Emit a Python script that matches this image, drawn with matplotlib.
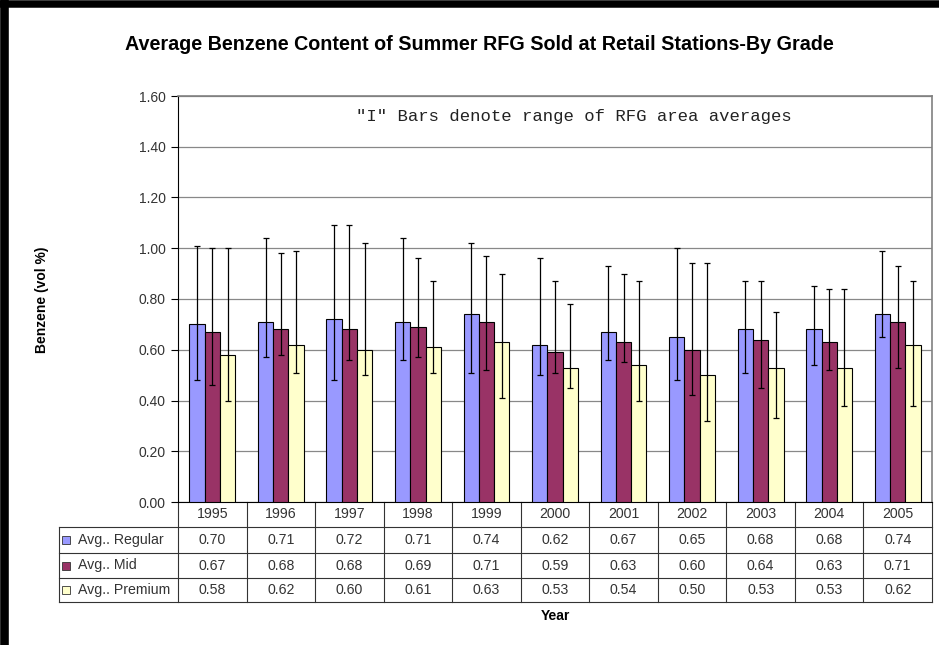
import numpy as np
import matplotlib.pyplot as plt
import matplotlib.transforms as mtransforms
from matplotlib.lines import Line2D
from matplotlib.patches import Rectangle

years = ['1995', '1996', '1997', '1998', '1999', '2000',
         '2001', '2002', '2003', '2004', '2005']
series = ['Avg.. Regular', 'Avg.. Mid', 'Avg.. Premium']
colors = ['#9999FF', '#993366', '#FFFFCC']

regular = [0.70, 0.71, 0.72, 0.71, 0.74, 0.62, 0.67, 0.65, 0.68, 0.68, 0.74]
mid = [0.67, 0.68, 0.68, 0.69, 0.71, 0.59, 0.63, 0.60, 0.64, 0.63, 0.71]
premium = [0.58, 0.62, 0.60, 0.61, 0.63, 0.53, 0.54, 0.50, 0.53, 0.53, 0.62]

# range of RFG area averages (low / high ends of the "I" bars)
regular_lo = [0.48, 0.57, 0.48, 0.56, 0.51, 0.50, 0.56, 0.48, 0.51, 0.54, 0.65]
regular_hi = [1.01, 1.04, 1.09, 1.04, 1.02, 0.96, 0.93, 1.00, 0.87, 0.85, 0.99]
mid_lo = [0.46, 0.58, 0.56, 0.57, 0.52, 0.51, 0.55, 0.42, 0.45, 0.52, 0.53]
mid_hi = [1.00, 0.98, 1.09, 0.96, 0.97, 0.87, 0.90, 0.94, 0.87, 0.84, 0.93]
premium_lo = [0.40, 0.51, 0.50, 0.51, 0.41, 0.45, 0.40, 0.32, 0.33, 0.38, 0.38]
premium_hi = [1.00, 0.99, 1.02, 0.87, 0.90, 0.78, 0.87, 0.94, 0.75, 0.84, 0.87]

values = [regular, mid, premium]
lows = [regular_lo, mid_lo, premium_lo]
highs = [regular_hi, mid_hi, premium_hi]

W, H = 939, 645
fig = plt.figure(figsize=(W / 100, H / 100), dpi=100)
plt.rcParams['font.family'] = ['Liberation Sans', 'DejaVu Sans']

# plot area in pixels
left, right, top, bottom = 178, 932, 96, 502
ax = fig.add_axes([left / W, 1 - bottom / H, (right - left) / W, (bottom - top) / H])

x = np.arange(len(years))
bw = 0.223
for i, (vals, lo, hi, c) in enumerate(zip(values, lows, highs, colors)):
    vals = np.array(vals)
    err = [vals - np.array(lo), np.array(hi) - vals]
    ax.bar(x + (i - 1) * bw, vals, bw, color=c, edgecolor='black', linewidth=0.8,
           yerr=err, error_kw=dict(ecolor='black', elinewidth=0.9, capsize=2.3, capthick=0.9),
           zorder=3)

ax.set_xlim(-0.5, len(years) - 0.5)
ax.set_ylim(0, 1.6)
ax.set_yticks(np.arange(0, 1.61, 0.2))
ax.set_yticklabels([f'{v:.2f}' for v in np.arange(0, 1.61, 0.2)])
ax.set_xticks([])
ax.tick_params(axis='y', direction='out', length=5, width=0.8, colors='black',
               labelsize=10, labelcolor='#333333', pad=4)
ax.grid(axis='y', color='#888888', linewidth=0.9, zorder=0)
for s in ['top', 'right']:
    ax.spines[s].set_color('#808080')
    ax.spines[s].set_linewidth(1.2)
for s in ['left', 'bottom']:
    ax.spines[s].set_color('black')
    ax.spines[s].set_linewidth(0.8)

ax.text(0.5245, 0.95, '"I" Bars denote range of RFG area averages',
        transform=ax.transAxes, ha='center', va='center',
        family='Liberation Mono', fontsize=12.4, color='#222222')

# data table below the plot: x in data units (one column per year), y in axes units
tr = mtransforms.blended_transform_factory(ax.transData, ax.transAxes)
px_x = (len(years)) / (right - left)          # data units per pixel
px_y = 1 / (bottom - top)                     # axes units per pixel
row_edges = [0, -25 * px_y, -51 * px_y, -76 * px_y, -100 * px_y]
tab_left = -0.5 - (left - 59) * px_x
tab_right = len(years) - 0.5
line_kw = dict(color='#333333', linewidth=0.8, transform=tr, clip_on=False)

for y in row_edges[1:]:
    ax.add_line(Line2D([tab_left, tab_right], [y, y], **line_kw))
ax.add_line(Line2D([tab_left, tab_left], [row_edges[1], row_edges[-1]], **line_kw))
for b in np.arange(len(years) + 1) - 0.5:
    ax.add_line(Line2D([b, b], [row_edges[0], row_edges[-1]], **line_kw))

txt_kw = dict(transform=tr, fontsize=10.2, color='#333333', va='center', clip_on=False)
yc = (row_edges[0] + row_edges[1]) / 2
for xi, yr in zip(x, years):
    ax.text(xi, yc, yr, ha='center', **txt_kw)
for r, (name, vals, c) in enumerate(zip(series, values, colors)):
    yc = (row_edges[r + 1] + row_edges[r + 2]) / 2
    for xi, v in zip(x, vals):
        ax.text(xi, yc, f'{v:.2f}', ha='center', **txt_kw)
    ax.text(tab_left + 19 * px_x, yc, name, ha='left', **txt_kw)
    ax.add_patch(Rectangle((tab_left + 3 * px_x, yc - 4 * px_y), 8 * px_x, 8 * px_y,
                           transform=tr, facecolor=c, edgecolor='#333333',
                           linewidth=0.6, clip_on=False, zorder=5))

fig.text(0.511, 1 - 45 / H, 'Average Benzene Content of Summer RFG Sold at Retail Stations-By Grade',
         ha='center', va='center', fontsize=14.2, fontweight='bold')
fig.text(555 / W, 1 - 616 / H, 'Year', ha='center', va='center', fontsize=10, fontweight='bold')
fig.text(42 / W, 1 - 300 / H, 'Benzene (vol %)', ha='center', va='center',
         rotation=90, fontsize=10, fontweight='bold')

# black frame on the left and top
fig.add_artist(Line2D([4 / W, 4 / W], [0, 1], color='black', linewidth=6.2,
                      transform=fig.transFigure))
fig.add_artist(Line2D([0, 1], [1 - 4 / H, 1 - 4 / H], color='black', linewidth=5.4,
                      transform=fig.transFigure))

fig.savefig('out.png', dpi=100)
